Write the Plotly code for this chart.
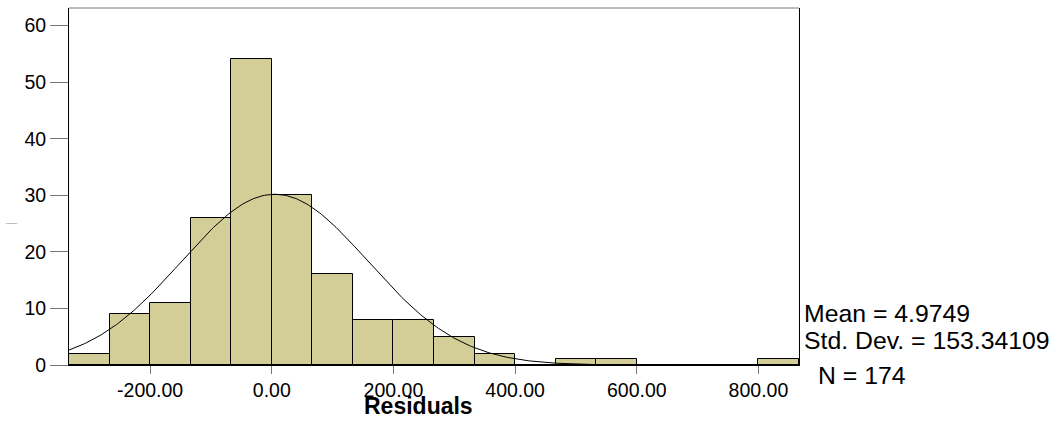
import numpy as np
import plotly.graph_objects as go

# ---- data ----
bin_start = -1000.0 / 3.0          # left edge of the first bin
bin_width = 200.0 / 3.0
counts = [2, 9, 11, 26, 54, 30, 16, 8, 8, 5, 2, 0, 1, 1, 0, 0, 0, 1]
x_ticks = [-200, 0, 200, 400, 600, 800]
x_tick_labels = ["-200.00", "0.00", "200.00", "400.00", "600.00", "800.00"]
y_ticks = [0, 10, 20, 30, 40, 50, 60]
mean_val = 4.9749
sd_val = 153.34109
n_val = 174

centers = [bin_start + bin_width * (i + 0.5) for i in range(len(counts))]
x_lo = bin_start
x_hi = bin_start + bin_width * len(counts)

xs = np.linspace(x_lo, x_hi, 400)
ys = n_val * bin_width / (sd_val * np.sqrt(2 * np.pi)) * np.exp(-0.5 * ((xs - mean_val) / sd_val) ** 2)

FONT = "Arial, Liberation Sans, sans-serif"

fig = go.Figure()
fig.add_trace(go.Bar(
    x=centers, y=counts, width=bin_width,
    marker=dict(color="#d3ce97", line=dict(color="black", width=1)),
    hoverinfo="skip", showlegend=False,
))
fig.add_trace(go.Scatter(
    x=xs, y=ys, mode="lines", line=dict(color="black", width=1),
    hoverinfo="skip", showlegend=False,
))

fig.update_layout(
    width=1058, height=421,
    margin=dict(l=69, r=259, t=8, b=56),
    paper_bgcolor="white", plot_bgcolor="white",
    font=dict(family=FONT, color="black"),
    bargap=0,
    xaxis=dict(
        range=[x_lo, x_hi], tickmode="array", tickvals=x_ticks, ticktext=x_tick_labels,
        ticks="outside", ticklen=8, tickcolor="#777", tickwidth=1,
        showline=True, linecolor="black", linewidth=1, mirror=False,
        showgrid=False, zeroline=False, tickfont=dict(size=19.5),
    ),
    yaxis=dict(
        range=[0, 63.1], tickmode="array", tickvals=y_ticks,
        ticks="outside", ticklen=18, tickcolor="#777", tickwidth=1,
        showline=True, linecolor="black", linewidth=1, mirror=True,
        showgrid=False, zeroline=False, tickfont=dict(size=19.5),
    ),
)
# top frame line (grey)
fig.add_shape(type="line", xref="paper", yref="paper", x0=0, x1=1, y0=1, y1=1,
              line=dict(color="#777", width=1))

fig.add_annotation(text="<b>Residuals</b>", xref="paper", yref="paper",
                   x=(418.5 - 69) / 730, y=(364.7 - 406) / 357, xanchor="center", yanchor="middle",
                   showarrow=False, font=dict(size=23, family=FONT, color="black"))
fig.add_annotation(text="Frequency", xref="paper", yref="paper",
                   x=(12 - 69) / 730, y=(364.7 - 223) / 357, xanchor="center", yanchor="middle",
                   showarrow=False, font=dict(size=2.5, family=FONT, color="#444"))
fig.add_annotation(text="Mean = %.4f" % mean_val, xref="paper", yref="paper",
                   x=(802 - 69) / 730, y=(364.7 - 313.5) / 357, xanchor="left", yanchor="middle",
                   showarrow=False, font=dict(size=24.8, family=FONT, color="black"))
fig.add_annotation(text="Std. Dev. = %.5f" % sd_val, xref="paper", yref="paper",
                   x=(802 - 69) / 730, y=(364.7 - 340) / 357, xanchor="left", yanchor="middle",
                   showarrow=False, font=dict(size=24.8, family=FONT, color="black"))
fig.add_annotation(text="N = %d" % n_val, xref="paper", yref="paper",
                   x=(816 - 69) / 730, y=(364.7 - 375) / 357, xanchor="left", yanchor="middle",
                   showarrow=False, font=dict(size=24.8, family=FONT, color="black"))

fig.write_html("out.html")
